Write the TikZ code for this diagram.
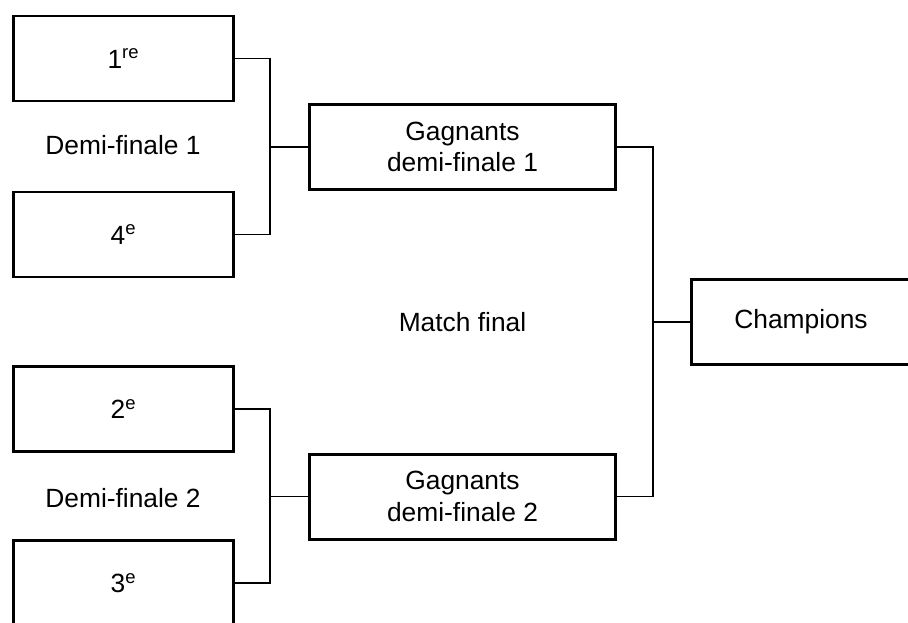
\documentclass[tikz,border=0pt]{standalone}
\usepackage{fontspec}
\setmainfont{Liberation Sans}
\usepackage{tikz}

\tikzset{
  teambox/.style={draw, line width=1.7pt, minimum width=4.4cm, minimum height=1.7cm, align=center},
  winbox/.style={draw, line width=1.7pt, minimum width=6.12cm, minimum height=1.7cm, align=center},
  link/.style={line width=0.6pt}
}

\begin{document}
\begin{tikzpicture}[font=\fontsize{15}{18}\selectfont]
            \useasboundingbox (0,0) rectangle (18.16,-12.44);
            \clip (0,0) rectangle (18.16,-12.44);
            % left column
            \node [teambox] (first) at (2.47,-1.17) {1\textsuperscript{re}};
            \node [teambox] (fourth) at (2.47,-4.69) {4\textsuperscript{e}};
            \node [teambox] (second) at (2.47,-8.18) {2\textsuperscript{e}};
            \node [teambox] (third) at (2.47,-11.66) {3\textsuperscript{e}};
            \node (semione) at (2.46,-2.9) {Demi-finale 1};
            \node (semitwo) at (2.46,-9.96) {Demi-finale 2};
            % winners
            \node [winbox] (winone) at (9.25,-2.94) {Gagnants\\demi-finale 1};
            \node [winbox] (wintwo) at (9.25,-9.93) {Gagnants\\demi-finale 2};
            \node (final) at (9.25,-6.44) {Match final};
            \node [teambox] (champ) at (16.02,-6.44) {Champions};
            % connectors
            \draw [link] (first.east) -- ++(0.7,0) |- (fourth.east);
            \draw [link] (second.east) -- ++(0.7,0) |- (third.east);
            \draw [link] (winone.west) -- ++(-0.76,0);
            \draw [link] (wintwo.west) -- ++(-0.76,0);
            \draw [link] (winone.east) -- ++(0.72,0) |- (wintwo.east);
            \draw [link] (champ.west) -- ++(-0.72,0);
        \end{tikzpicture}
\end{document}
